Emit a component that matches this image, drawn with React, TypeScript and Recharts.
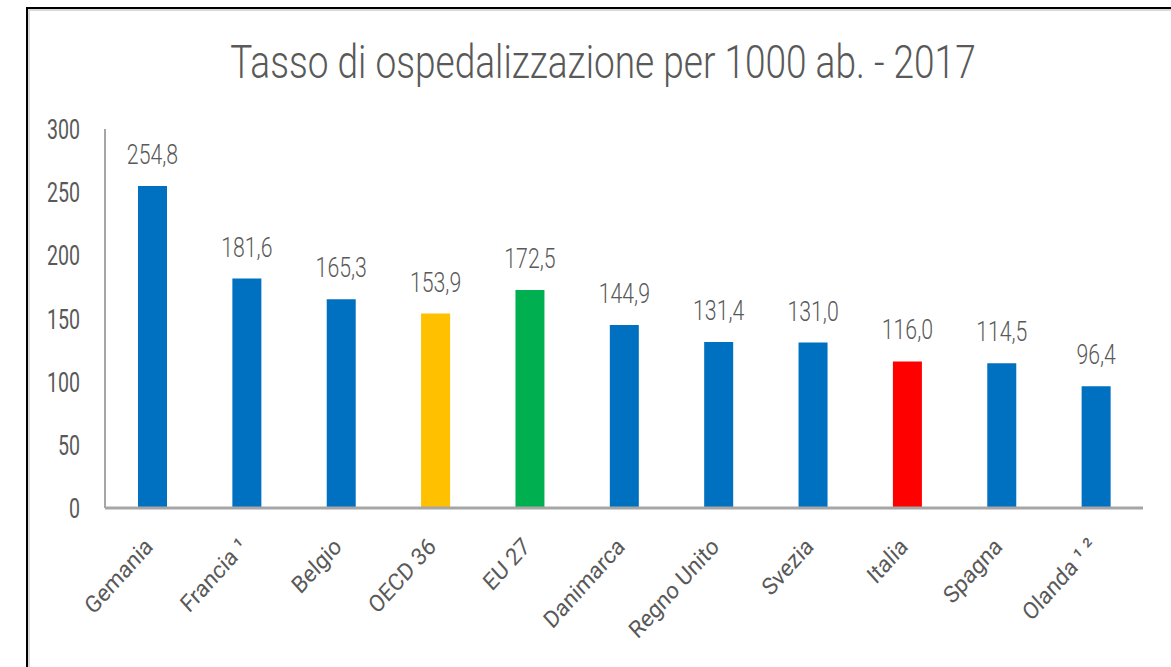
import { BarChart, Bar, XAxis, YAxis, Cell, LabelList } from "recharts";

const categories = [
  "Gemania",
  "Francia \u00B9",
  "Belgio",
  "OECD 36",
  "EU 27",
  "Danimarca",
  "Regno Unito",
  "Svezia",
  "Italia",
  "Spagna",
  "Olanda \u00B9 \u00B2",
];
const values = [254.8, 181.6, 165.3, 153.9, 172.5, 144.9, 131.4, 131.0, 116.0, 114.5, 96.4];
const barColors = [
  "#0070C0",
  "#0070C0",
  "#0070C0",
  "#FFC000",
  "#00B050",
  "#0070C0",
  "#0070C0",
  "#0070C0",
  "#FF0000",
  "#0070C0",
  "#0070C0",
];
const yTicks = [0, 50, 100, 150, 200, 250, 300];

const FONT = "Roboto, 'Liberation Sans', sans-serif";
const TEXT = "#595959";

const chartData = categories.map((name, i) => ({ name, value: values[i] }));

// rotated category labels, right end sits under the bar
const AngledTick = (props: any) => {
  const { x, y, payload } = props;
  return (
    <g transform={`translate(${x + 2},${y + 32}) scale(0.9,1)`}>
      <text textAnchor="end" transform="rotate(-45)" fill={TEXT} fontSize={24} fontFamily={FONT}>
        {payload.value}
      </text>
    </g>
  );
};

// the source font is a tall narrow one, so squeeze Roboto sideways
const NarrowYTick = (props: any) => {
  const { x, y, payload } = props;
  return (
    <text
      transform={`translate(${x},${y}) scale(0.7,1)`}
      textAnchor="end"
      dy="0.36em"
      fill={TEXT}
      fontSize={28}
      fontFamily={FONT}
    >
      {payload.value}
    </text>
  );
};

const ValueLabel = (props: any) => {
  const { x, y, width, value } = props;
  const cx = Number(x) + Number(width) / 2;
  return (
    <text
      transform={`translate(${cx},${Number(y) - 22}) scale(0.76,1)`}
      textAnchor="middle"
      fill={TEXT}
      fontSize={28}
      fontWeight={300}
      fontFamily={FONT}
    >
      {Number(value).toFixed(1).replace(".", ",")}
    </text>
  );
};

export default function App() {
  return (
    <div style={{ position: "absolute", left: 0, top: 0, width: 1171, height: 667, overflow: "hidden", background: "#fff" }}>
      {/* frame */}
      <div
        style={{
          position: "absolute",
          left: 26,
          top: 7,
          width: 1200,
          height: 700,
          borderTop: "2px solid #000",
          borderLeft: "2px solid #000",
        }}
      >
        <div style={{ width: "100%", height: "100%", borderTop: "2px solid #d9d9d9", borderLeft: "2px solid #d9d9d9" }} />
      </div>

      <div
        style={{
          position: "absolute",
          left: 0,
          width: 1206,
          top: 39,
          textAlign: "center",
          fontFamily: FONT,
          fontWeight: 300,
          fontSize: 46,
          color: TEXT,
          lineHeight: "46px",
          whiteSpace: "nowrap",
          transform: "scaleX(0.805)",
          transformOrigin: "603px 0",
        }}
      >
        Tasso di ospedalizzazione per 1000 ab. - 2017
      </div>

      <div style={{ position: "absolute", left: 0, top: 0 }}>
        <BarChart
          width={1171}
          height={667}
          data={chartData}
          margin={{ top: 129, right: 28, left: 25, bottom: 39 }}
          barSize={29}
        >
          <XAxis
            dataKey="name"
            interval={0}
            height={120}
            tick={<AngledTick />}
            tickLine={false}
            axisLine={{ stroke: "#a6a6a6", strokeWidth: 3 }}
          />
          <YAxis
            domain={[0, 300]}
            ticks={yTicks}
            width={80}
            tickLine={false}
            tickSize={0}
            tickMargin={25}
            axisLine={{ stroke: "#a6a6a6", strokeWidth: 2 }}
            tick={<NarrowYTick />}
          />
          <Bar dataKey="value" isAnimationActive={false}>
            {chartData.map((_, i) => (
              <Cell key={`c-${i}`} fill={barColors[i]} />
            ))}
            <LabelList dataKey="value" content={<ValueLabel />} />
          </Bar>
        </BarChart>
      </div>
    </div>
  );
}
